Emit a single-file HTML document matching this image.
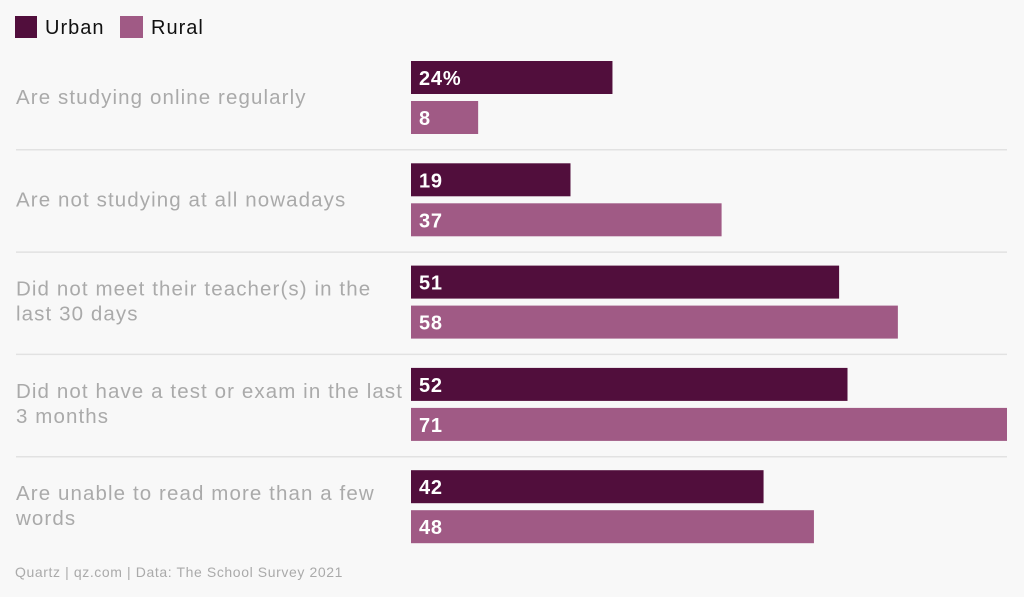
<!DOCTYPE html>
<html><head><meta charset="utf-8"><style>
body{margin:0;background:#f8f8f8;font-family:"Liberation Sans",sans-serif;}
svg{display:block}
</style></head><body>
<svg id="c" width="1024" height="597">
<g>
<rect x="15" y="16" width="22" height="22" fill="#510e3c"/>
<text x="45" y="34" font-size="20" letter-spacing="1" fill="#111">Urban</text>
<rect x="120" y="16" width="23" height="22" fill="#a05a85"/>
<text x="151" y="34" font-size="20" letter-spacing="1" fill="#111">Rural</text>
</g>
<text x="15" y="577" font-size="14" letter-spacing="0.6" fill="#aaa">Quartz | qz.com | Data: The School Survey 2021</text>
</svg>
<script>
const categories=[["Are studying online regularly"],["Are not studying at all nowadays"],["Did not meet their teacher(s) in the","last 30 days"],["Did not have a test or exam in the last","3 months"],["Are unable to read more than a few","words"]];
const urban=[24,19,51,52,42];
const rural=[8,37,58,71,48];
const urbanLabels=["24%","19","51","52","42"];
const ruralLabels=["8","37","58","71","48"];
const svg=document.getElementById('c');
const NS='http://www.w3.org/2000/svg';
const x0=411,scale=(1007-411)/71;
const xs=v=>v*scale;
const groupY=i=>61+i*102.3;
function mk(t,a){const e=document.createElementNS(NS,t);for(const k in a)e.setAttribute(k,a[k]);svg.appendChild(e);return e;}
categories.forEach((cat,i)=>{
  const y=groupY(i);
  if(i>0){const l=mk('line',{x1:16,x2:1007,y1:y-13.5,y2:y-13.5,stroke:'#e2e2e2','stroke-width':1.5});
  
  }
  const lines=cat.length;
  cat.forEach((ln,j)=>{
    const ty=(lines===1?y+43:y+30)+j*25;
    const t=mk('text',{x:16,y:ty,'font-size':20.5,'letter-spacing':1.1,fill:'#aaa'});t.textContent=ln;
    
    
  });
  [[urban,urbanLabels,'#510e3c',0,'urban'],[rural,ruralLabels,'#a05a85',40,'rural']].forEach(([vals,labs,col,off,nm])=>{
    const r=mk('rect',{x:x0,y:y+off,width:xs(vals[i]),height:33,fill:col});
    
    
    const t=mk('text',{x:x0+8,y:y+off+24,'font-size':20,'font-weight':'bold','letter-spacing':0.8,fill:'#fff'});t.textContent=labs[i];
    
    
  });
});
</script>
</body></html>
